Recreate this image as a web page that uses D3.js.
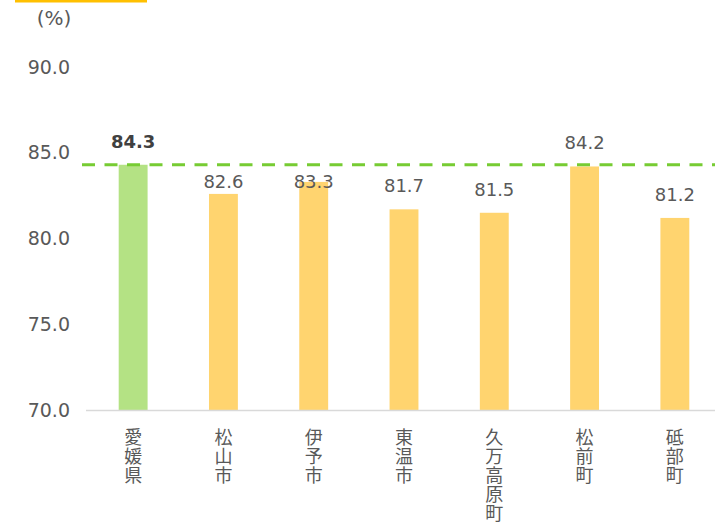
<!DOCTYPE html>
<html>
<head>
<meta charset="utf-8">
<script src="https://cdn.jsdelivr.net/npm/d3@7"></script>
<style>
  body { margin: 0; background: #fff; }
  text { font-family: "DejaVu Sans", "Noto Sans CJK JP", sans-serif; }
</style>
</head>
<body>
<div class="chart"></div>
<script>
var categories = ['愛媛県', '松山市', '伊予市', '東温市', '久万高原町', '松前町', '砥部町']
var values = [84.3, 82.6, 83.3, 81.7, 81.5, 84.2, 81.2]
var yTicks = [70, 75, 80, 85, 90]
var prefValue = 84.3   // 県平均 (dashed line)

var W = 715, H = 529
var margin = { top: 67, right: -5, bottom: 119, left: 88 }
var width = W - margin.left - margin.right
var height = H - margin.top - margin.bottom

var svg = d3.select('.chart')
  .append('svg')
    .attr('width', W)
    .attr('height', H)

// yellow strip at the very top
svg.append('rect')
  .attr('x', 15).attr('y', 0)
  .attr('width', 132).attr('height', 2.5)
  .attr('fill', '#ffc000')

svg.append('text')
  .attr('x', 54).attr('y', 25)
  .attr('text-anchor', 'middle')
  .attr('font-size', 20)
  .attr('fill', '#595959')
  .text('(%)')

var g = svg.append('g')
  .attr('transform', `translate(${margin.left}, ${margin.top})`)

var x = d3.scaleBand()
  .domain(categories)
  .range([0, width])
  .paddingInner(0.68)
  .paddingOuter(0.34)

var y = d3.scaleLinear()
  .domain([70, 90])
  .range([height, 0])

// y tick labels only (no axis line, no gridlines)
var yAxis = d3.axisLeft(y)
  .tickValues(yTicks)
  .tickFormat(d3.format('.1f'))
  .tickSize(0)
  .tickPadding(18)
g.append('g')
  .call(yAxis)
  .call(a => a.select('.domain').remove())
  .selectAll('text')
    .attr('font-size', 19)
    .attr('fill', '#595959')
    .attr('font-family', '"DejaVu Sans", sans-serif')

// bars
g.selectAll('.bar')
  .data(values)
  .enter().append('rect')
    .attr('class', 'bar')
    .attr('x', (d, i) => x(categories[i]))
    .attr('y', d => y(d))
    .attr('width', x.bandwidth())
    .attr('height', d => height - y(d))
    .attr('fill', (d, i) => i === 0 ? '#b4e284' : '#ffd46f')

// x axis line
g.append('line')
  .attr('x1', -2).attr('x2', W)
  .attr('y1', height + 0.5).attr('y2', height + 0.5)
  .attr('stroke', '#d9d9d9')
  .attr('stroke-width', 1.5)

// dashed average line
var lineY = y(prefValue)
g.append('line')
  .attr('x1', -6).attr('x2', W)
  .attr('y1', lineY).attr('y2', lineY)
  .attr('stroke', '#77cc33')
  .attr('stroke-width', 3)
  .attr('stroke-dasharray', '13,9.5')

// data labels: above bar, pushed below the dashed line when they would cross it
g.selectAll('.lbl')
  .data(values)
  .enter().append('text')
    .attr('class', 'lbl')
    .attr('x', (d, i) => x(categories[i]) + x.bandwidth() / 2)
    .attr('y', d => {
      var base = y(d) - 17
      if (base - 14 < lineY + 3 && base + 2 > lineY - 3) return lineY + 23
      return base
    })
    .attr('text-anchor', 'middle')
    .attr('font-size', 18)
    .attr('font-weight', (d, i) => i === 0 ? 'bold' : 'normal')
    .attr('fill', (d, i) => i === 0 ? '#404040' : '#595959')
    .text(d => d3.format('.1f')(d))

// vertical category labels
var cat = g.selectAll('.cat')
  .data(categories)
  .enter().append('text')
    .attr('class', 'cat')
    .attr('font-size', 18)
    .attr('fill', '#595959')
    .attr('text-anchor', 'middle')
    .attr('font-family', '"Noto Sans CJK JP", sans-serif')

cat.selectAll('tspan')
  .data(d => Array.from(d).map(c => ({ c: c, cat: d })))
  .enter().append('tspan')
    .attr('x', d => x(d.cat) + x.bandwidth() / 2)
    .attr('y', (d, i) => height + 34 + i * 19)
    .text(d => d.c)
</script>
</body>
</html>
